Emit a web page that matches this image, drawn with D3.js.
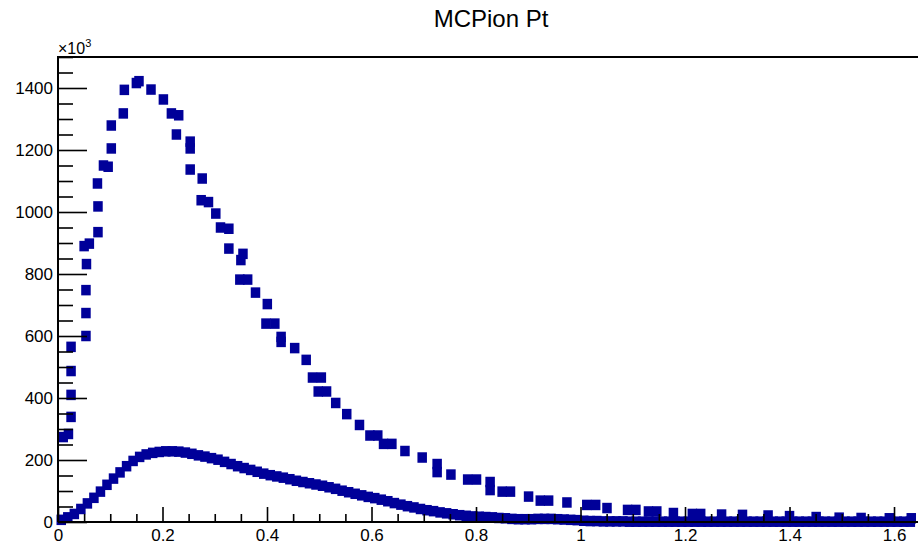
<!DOCTYPE html>
<html>
<head>
<meta charset="utf-8">
<script src="https://cdn.jsdelivr.net/npm/d3@7"></script>
<style>
  html, body { margin: 0; padding: 0; background: #fff; }
  svg { display: block; }
  text { font-family: "Liberation Sans", Arial, Helvetica, sans-serif; }
</style>
</head>
<body>
<div id="chart"></div>
<script>
// ---------------- data ----------------
const chartTitle = "MCPion Pt";
const xTickValues = [0, 0.2, 0.4, 0.6, 0.8, 1.0, 1.2, 1.4, 1.6];
const xTickLabels = ["0", "0.2", "0.4", "0.6", "0.8", "1", "1.2", "1.4", "1.6"];
const yTickValues = [0, 200, 400, 600, 800, 1000, 1200, 1400];
const yTickLabels = ["0", "200", "400", "600", "800", "1000", "1200", "1400"];
const yExponent = "3";

// upper series (values in units of 10^3)
const bigX = [0.010, 0.020, 0.025, 0.025, 0.025, 0.025, 0.0535, 0.0535, 0.0535, 0.0545,
  0.050, 0.060, 0.0765, 0.0765, 0.0755, 0.087, 0.096, 0.102, 0.102, 0.125,
  0.127, 0.150, 0.155, 0.178, 0.2017, 0.217, 0.231, 0.2266, 0.253, 0.253,
  0.253, 0.276, 0.274, 0.288, 0.302, 0.311, 0.327, 0.327, 0.354, 0.350,
  0.348, 0.363, 0.378, 0.4006, 0.398, 0.415, 0.427, 0.427, 0.453, 0.475,
  0.487, 0.504, 0.498, 0.514, 0.5315, 0.5526, 0.577, 0.597, 0.612, 0.623,
  0.639, 0.664, 0.697, 0.7256, 0.7256, 0.752, 0.784, 0.801, 0.827, 0.827,
  0.850, 0.866, 0.9006, 0.923, 0.939, 0.974, 1.012, 1.029, 1.0507, 1.090,
  1.106, 1.130, 1.146, 1.1778, 1.214, 1.230, 1.27, 1.31, 1.359, 1.40,
  1.451, 1.495, 1.537, 1.591, 1.633];
const bigY = [274, 284, 339, 410, 487, 565, 600, 674, 748, 832,
  890, 898, 935, 1018, 1092, 1150, 1146, 1205, 1279, 1318,
  1394, 1416, 1422, 1395, 1363, 1318, 1312, 1250, 1227, 1205,
  1137, 1108, 1038, 1032, 995, 950, 946, 882, 865, 845,
  782, 782, 740, 703, 640, 640, 597, 581, 561, 523,
  466, 466, 421, 421, 384, 348, 313, 279, 279, 252,
  252, 229, 208, 187, 161, 153, 137, 137, 129, 103,
  98, 98, 82, 69, 69, 63, 55, 55, 45, 39,
  39, 34, 34, 29, 26, 26, 24, 23, 21, 19,
  16, 14, 13, 12, 12];

// lower series: bin width 0.0125, bin centres
const smallBinWidth = 0.0125;
const smallY = [7, 15, 26, 42, 60, 78, 98, 120, 140, 160,
  180, 197, 210, 218, 223, 226, 228, 228, 227, 224,
  220, 215, 211, 206, 201, 194, 187, 180, 174, 168,
  162, 156, 151, 147, 143, 138, 133, 129, 125, 121,
  117, 112, 107, 101, 96, 91, 86, 81, 77, 72,
  67, 61, 56, 51, 47, 42, 38, 35, 31, 28,
  25, 22, 20, 18, 17, 16, 15, 13, 12, 10,
  9, 9, 9, 10, 10, 10, 9, 8, 7, 6,
  4, 3, 3, 2, 2, 2, 2, 1, 1, 1,
  1, 1, 1, 1, 1, 1, 1, 1, 1, 1,
  1, 1, 1, 1, 1, 1, 1, 1, 1, 1,
  1, 1, 1, 1, 1, 1, 1, 1, 1, 1,
  1, 1, 1, 1, 1, 1, 1, 1, 1, 1,
  1];

// ---------------- layout ----------------
const W = 918, H = 551;
const frame = { left: 58, right: 920, top: 57, bottom: 522 };
const markerColor = "#000099";
const mW = 9.5, mH = 10.5;

const svg = d3.select("#chart").append("svg")
  .attr("width", W).attr("height", H);

const x = d3.scaleLinear().domain([0, 1.6459]).range([frame.left, frame.right - 2]);
const y = d3.scaleLinear().domain([0, 1500]).range([frame.bottom, frame.top]);

// title
svg.append("text")
  .attr("x", 491).attr("y", 27)
  .attr("text-anchor", "middle")
  .style("font-size", "24px")
  .attr("fill", "#000")
  .text(chartTitle);

// frame
svg.append("rect")
  .attr("x", frame.left).attr("y", frame.top)
  .attr("width", frame.right - frame.left)
  .attr("height", frame.bottom - frame.top)
  .attr("fill", "none").attr("stroke", "#000").attr("stroke-width", 2);

// markers
const gm = svg.append("g");
const smallData = smallY.map((v, i) => ({ x: (i + 0.5) * smallBinWidth, y: v }));
const bigData = bigX.map((v, i) => ({ x: v, y: bigY[i] }));

gm.selectAll("rect.small").data(smallData).enter().append("rect")
  .attr("class", "small")
  .attr("x", d => x(d.x) - mW / 2).attr("y", d => y(d.y) - mH / 2)
  .attr("width", mW).attr("height", mH)
  .attr("fill", markerColor);

gm.selectAll("rect.big").data(bigData).enter().append("rect")
  .attr("class", "big")
  .attr("x", d => x(d.x) - mW / 2).attr("y", d => y(d.y) - mH / 2)
  .attr("width", mW).attr("height", mH)
  .attr("fill", markerColor);

// axes
const xMinor = d3.range(0, 33).map(i => i * 0.05).filter(v => !xTickValues.some(t => Math.abs(t - v) < 1e-6));
const yMinor = d3.range(0, 31).map(i => i * 50).filter(v => !yTickValues.includes(v));

const xAxis = svg.append("g").attr("transform", `translate(0,${frame.bottom})`)
  .call(d3.axisBottom(x).tickValues(xTickValues).tickSize(-15).tickPadding(7)
    .tickFormat((d, i) => xTickLabels[i]));
xAxis.call(g => g.select(".domain").remove());
xAxis.selectAll("line").attr("stroke", "#000").attr("stroke-width", 1.6);
xAxis.selectAll("text").style("font-size", "17px").attr("fill", "#000");

const xAxisMinor = svg.append("g").attr("transform", `translate(0,${frame.bottom})`)
  .call(d3.axisBottom(x).tickValues(xMinor).tickSize(-8).tickFormat(""));
xAxisMinor.call(g => g.select(".domain").remove());
xAxisMinor.selectAll("line").attr("stroke", "#000").attr("stroke-width", 1.6);

const yAxis = svg.append("g").attr("transform", `translate(${frame.left},0)`)
  .call(d3.axisLeft(y).tickValues(yTickValues).tickSize(-29).tickPadding(5)
    .tickFormat((d, i) => yTickLabels[i]));
yAxis.call(g => g.select(".domain").remove());
yAxis.selectAll("line").attr("stroke", "#000").attr("stroke-width", 1.6);
yAxis.selectAll("text").style("font-size", "17px").attr("fill", "#000");

const yAxisMinor = svg.append("g").attr("transform", `translate(${frame.left},0)`)
  .call(d3.axisLeft(y).tickValues(yMinor).tickSize(-15).tickFormat(""));
yAxisMinor.call(g => g.select(".domain").remove());
yAxisMinor.selectAll("line").attr("stroke", "#000").attr("stroke-width", 1.6);

// axis lines on top
svg.append("line").attr("x1", frame.left).attr("x2", frame.right)
  .attr("y1", frame.bottom).attr("y2", frame.bottom)
  .attr("stroke", "#000").attr("stroke-width", 2);
svg.append("line").attr("x1", frame.left).attr("x2", frame.left)
  .attr("y1", frame.top).attr("y2", frame.bottom)
  .attr("stroke", "#000").attr("stroke-width", 2);

// exponent label
const expText = svg.append("text")
  .attr("x", frame.left).attr("y", 54)
  .style("font-size", "16px").attr("fill", "#000");
expText.append("tspan").text("\u00d710");
expText.append("tspan").attr("dy", -7).style("font-size", "11px").text(yExponent);
</script>
</body>
</html>
